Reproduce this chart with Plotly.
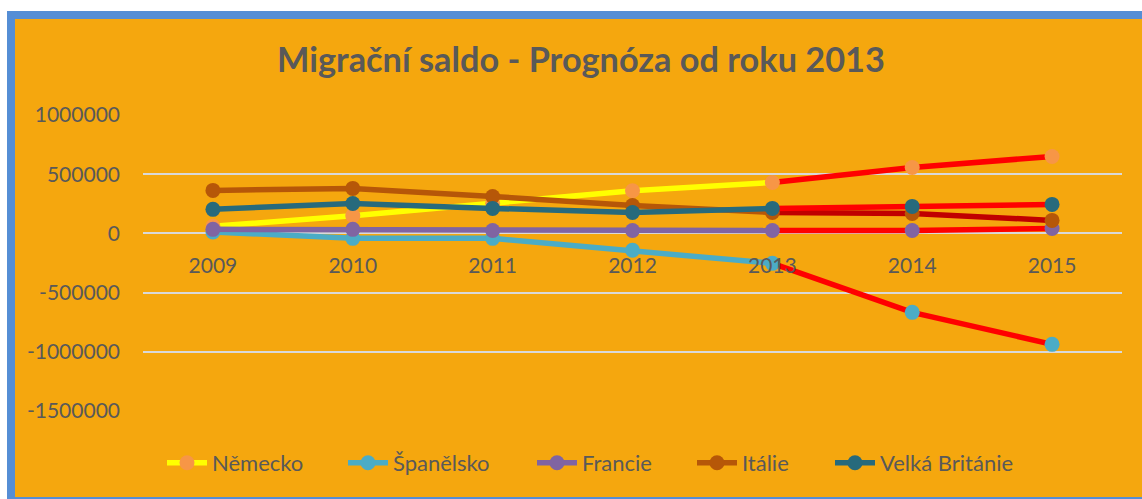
import plotly.graph_objects as go

years = ["2009", "2010", "2011", "2012", "2013", "2014", "2015"]
series_names = ["Německo", "Španělsko", "Francie", "Itálie", "Velká Británie"]
nemecko = [60000, 150000, 255000, 360000, 430000, 557000, 650000]
spanelsko = [12000, -42000, -42000, -142000, -253000, -667000, -937000]
francie = [34000, 34000, 25000, 25000, 25000, 25000, 42000]
italie = [363000, 380000, 312000, 236000, 177000, 169000, 110000]
velka_britanie = [203000, 253000, 211000, 177000, 211000, 228000, 245000]
series_values = [nemecko, spanelsko, francie, italie, velka_britanie]

line_colors = ["#FFFF00", "#4BACC6", "#8064A2", "#B65708", "#276A7C"]
marker_colors = ["#F79646", "#4BACC6", "#8064A2", "#B65708", "#276A7C"]
forecast_colors = ["#FF0000", "#FF0000", "#FF0000", "#C00000", "#FF0000"]
forecast_start = 4  # 2013

y_ticks = [1000000, 500000, 0, -500000, -1000000, -1500000]
y_ticktext = [str(v) for v in y_ticks]

W, H = 1142, 499
ML, MR, MT, MB = 143, 20, 115, 88
PW, PH = W - ML - MR, H - MT - MB

def fx(px):
    return (px - ML) / PW

def fy(py):
    return (H - MB - py) / PH

ORANGE = "#F5A70E"
BLUE = "#558ED5"
TXT = "#595959"
FONT = "Lato"

# pixel x where each legend entry's text starts in the reference
legend_text_x = [213, 394, 583, 743, 881]
LEG_TEXT_OFFSET = 51

fig = go.Figure()
legend_layout = {}
for i, (name, vals, lc, mc, fc) in enumerate(zip(series_names, series_values, line_colors, marker_colors, forecast_colors)):
    lg = "legend" if i == 0 else f"legend{i + 1}"
    fig.add_trace(go.Scatter(
        x=years[forecast_start:], y=vals[forecast_start:], mode="lines",
        line=dict(color=fc, width=5.5), showlegend=False, legendgroup=name, hoverinfo="skip"))
    fig.add_trace(go.Scatter(
        x=years[:forecast_start + 1], y=vals[:forecast_start + 1], mode="lines+markers",
        name=name, legendgroup=name, legend=lg,
        line=dict(color=lc, width=5.5), marker=dict(color=mc, size=15)))
    fig.add_trace(go.Scatter(
        x=years[forecast_start + 1:], y=vals[forecast_start + 1:], mode="markers",
        showlegend=False, legendgroup=name,
        marker=dict(color=mc, size=15)))
    legend_layout[lg] = dict(
        orientation="h", x=fx(legend_text_x[i] - LEG_TEXT_OFFSET), xanchor="left",
        y=fy(463), yanchor="middle", bgcolor="rgba(0,0,0,0)",
        font=dict(size=22, color=TXT, family=FONT), itemwidth=40)

fig.add_shape(type="rect", xref="paper", yref="paper", layer="below",
              x0=fx(11), x1=fx(1200), y0=fy(15), y1=fy(501),
              fillcolor=ORANGE, line=dict(color=BLUE, width=8))

fig.update_layout(
    width=W, height=H,
    margin=dict(l=ML, r=MR, t=MT, b=MB),
    paper_bgcolor="white",
    plot_bgcolor="rgba(0,0,0,0)",
    font=dict(family=FONT, color=TXT, size=21),
    title=dict(text="<b>Migrační saldo - Prognóza od roku 2013</b>",
               x=581 / W, xref="container", xanchor="center",
               y=1 - 60 / H, yref="container", yanchor="middle",
               font=dict(family=FONT, size=34.3, color=TXT)),
    xaxis=dict(type="category", categoryorder="array", categoryarray=years,
               range=[-0.5, 6.5], anchor="free", position=0.6,
               showgrid=False, showline=False, zeroline=False, ticks="",
               ticklabelstandoff=18, tickfont=dict(size=21, color=TXT)),
    yaxis=dict(range=[-1500000, 1000000], tickvals=y_ticks, ticktext=y_ticktext,
               showgrid=True, gridcolor="#D9D9D9", gridwidth=1.5,
               zeroline=True, zerolinecolor="#D9D9D9", zerolinewidth=1.5,
               showline=False, ticks="", ticklabelstandoff=22,
               tickfont=dict(size=21, color=TXT)),
    showlegend=True,
    **legend_layout,
)

fig.write_html("out.html", config={"displayModeBar": False},
               post_script="document.body.style.margin='0px';")
